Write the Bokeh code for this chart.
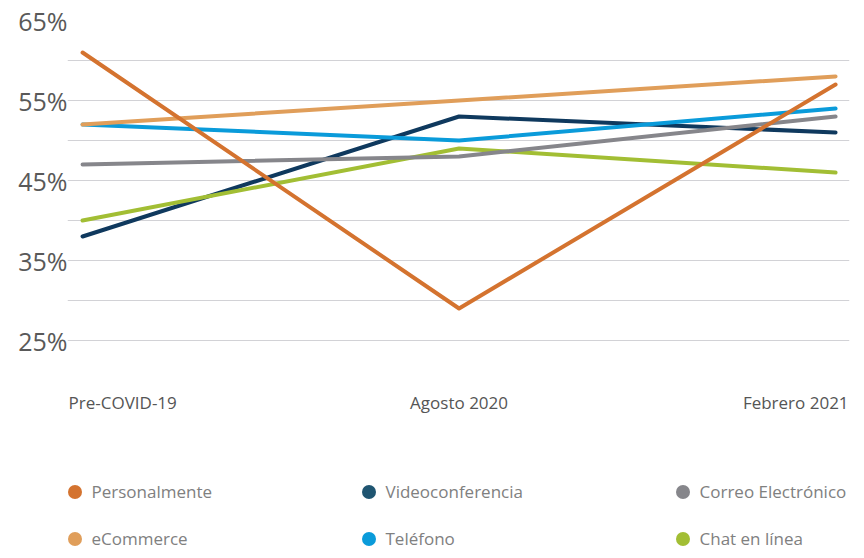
from bokeh.plotting import figure
from bokeh.models import (ColumnDataSource, Range1d, FixedTicker, Legend, LegendItem)
from bokeh.core.properties import value
from bokeh.embed import file_html
from bokeh.resources import INLINE

# ---- data ----
categories = ["Pre-COVID-19", "Agosto 2020", "Febrero 2021"]
personalmente = [61, 29, 57]
videoconferencia = [38, 53, 51]
correo = [47, 48, 53]
ecommerce = [52, 55, 58]
telefono = [52, 50, 54]
chat = [40, 49, 46]

tick_values = [25, 30, 35, 40, 45, 50, 55, 60, 65]
tick_labels = ["25%", "", "35%", "", "45%", "", "55%", "", "65%"]

series = [
    ("Personalmente", personalmente, "#D4732F"),
    ("Videoconferencia", videoconferencia, "#0F395E"),
    ("Correo Electrónico", correo, "#86868B"),
    ("eCommerce", ecommerce, "#E09E5A"),
    ("Teléfono", telefono, "#0A9BDA"),
    ("Chat en línea", chat, "#A2BE34"),
]
legend_dot_colors = {"Videoconferencia": "#1F5571"}
draw_order = ["Videoconferencia", "Teléfono", "Chat en línea",
              "Correo Electrónico", "eCommerce", "Personalmente"]

FONT = "Open Sans"

p = figure(width=864, height=558, output_backend="svg", toolbar_location=None,
           x_range=Range1d(-0.04, 2.037), y_range=Range1d(-2.25, 65),
           min_border_left=67, min_border_right=15, min_border_top=20,
           min_border_bottom=0)
p.outline_line_color = None
p.xaxis.visible = False
p.xgrid.grid_line_color = None

ya = p.yaxis[0]
ya.ticker = FixedTicker(ticks=tick_values)
ya.major_label_overrides = {v: l for v, l in zip(tick_values, tick_labels)}
ya.axis_line_color = None
ya.major_tick_line_color = None
ya.minor_tick_line_color = None
ya.major_tick_out = 0
ya.major_tick_in = 0
ya.major_label_standoff = 0
ya.major_label_text_font = FONT
ya.major_label_text_font_size = "25px"
ya.major_label_text_color = "#595959"
p.ygrid.grid_line_color = "#d2d2d6"
p.ygrid.grid_line_width = 1
p.ygrid.ticker = FixedTicker(ticks=tick_values)

xs = list(range(len(categories)))
lookup = {name: (vals, col) for name, vals, col in series}
for name in draw_order:
    vals, col = lookup[name]
    p.line(xs, vals, line_color=col, line_width=4, line_cap="round",
           line_join="round")

# category labels
lab_src = ColumnDataSource(dict(x=xs, y=[17.25] * 3, text=categories,
                                align=["left", "center", "right"],
                                xoff=[-14, 0, 13]))
p.text(x="x", y="y", text="text", source=lab_src, text_align="align",
       x_offset="xoff", text_baseline="middle", text_font=value(FONT),
       text_font_size="17px", text_color="#555555")

# legend (three columns); dots are zero-size markers on the series points
legend_cols = [[0, 3], [1, 4], [2, 5]]
legend_x = [-10.5, 283.5, 597.5]
for cols, lx in zip(legend_cols, legend_x):
    items = []
    for i in cols:
        name, vals, col = series[i]
        dot = p.scatter(x=xs, y=vals, marker="circle", size=0,
                        fill_color=legend_dot_colors.get(name, col),
                        line_color=None)
        items.append(LegendItem(label=name, renderers=[dot]))
    lg = Legend(items=items, location=(lx, 2.5), orientation="vertical",
                glyph_width=35, glyph_height=35, label_standoff=0,
                spacing=12, padding=0, margin=0,
                border_line_color=None, background_fill_alpha=0,
                label_text_font=FONT, label_text_font_size="17px",
                label_text_color="#808080")
    p.add_layout(lg, "center")

open("out.html", "w").write(file_html(p, INLINE))
